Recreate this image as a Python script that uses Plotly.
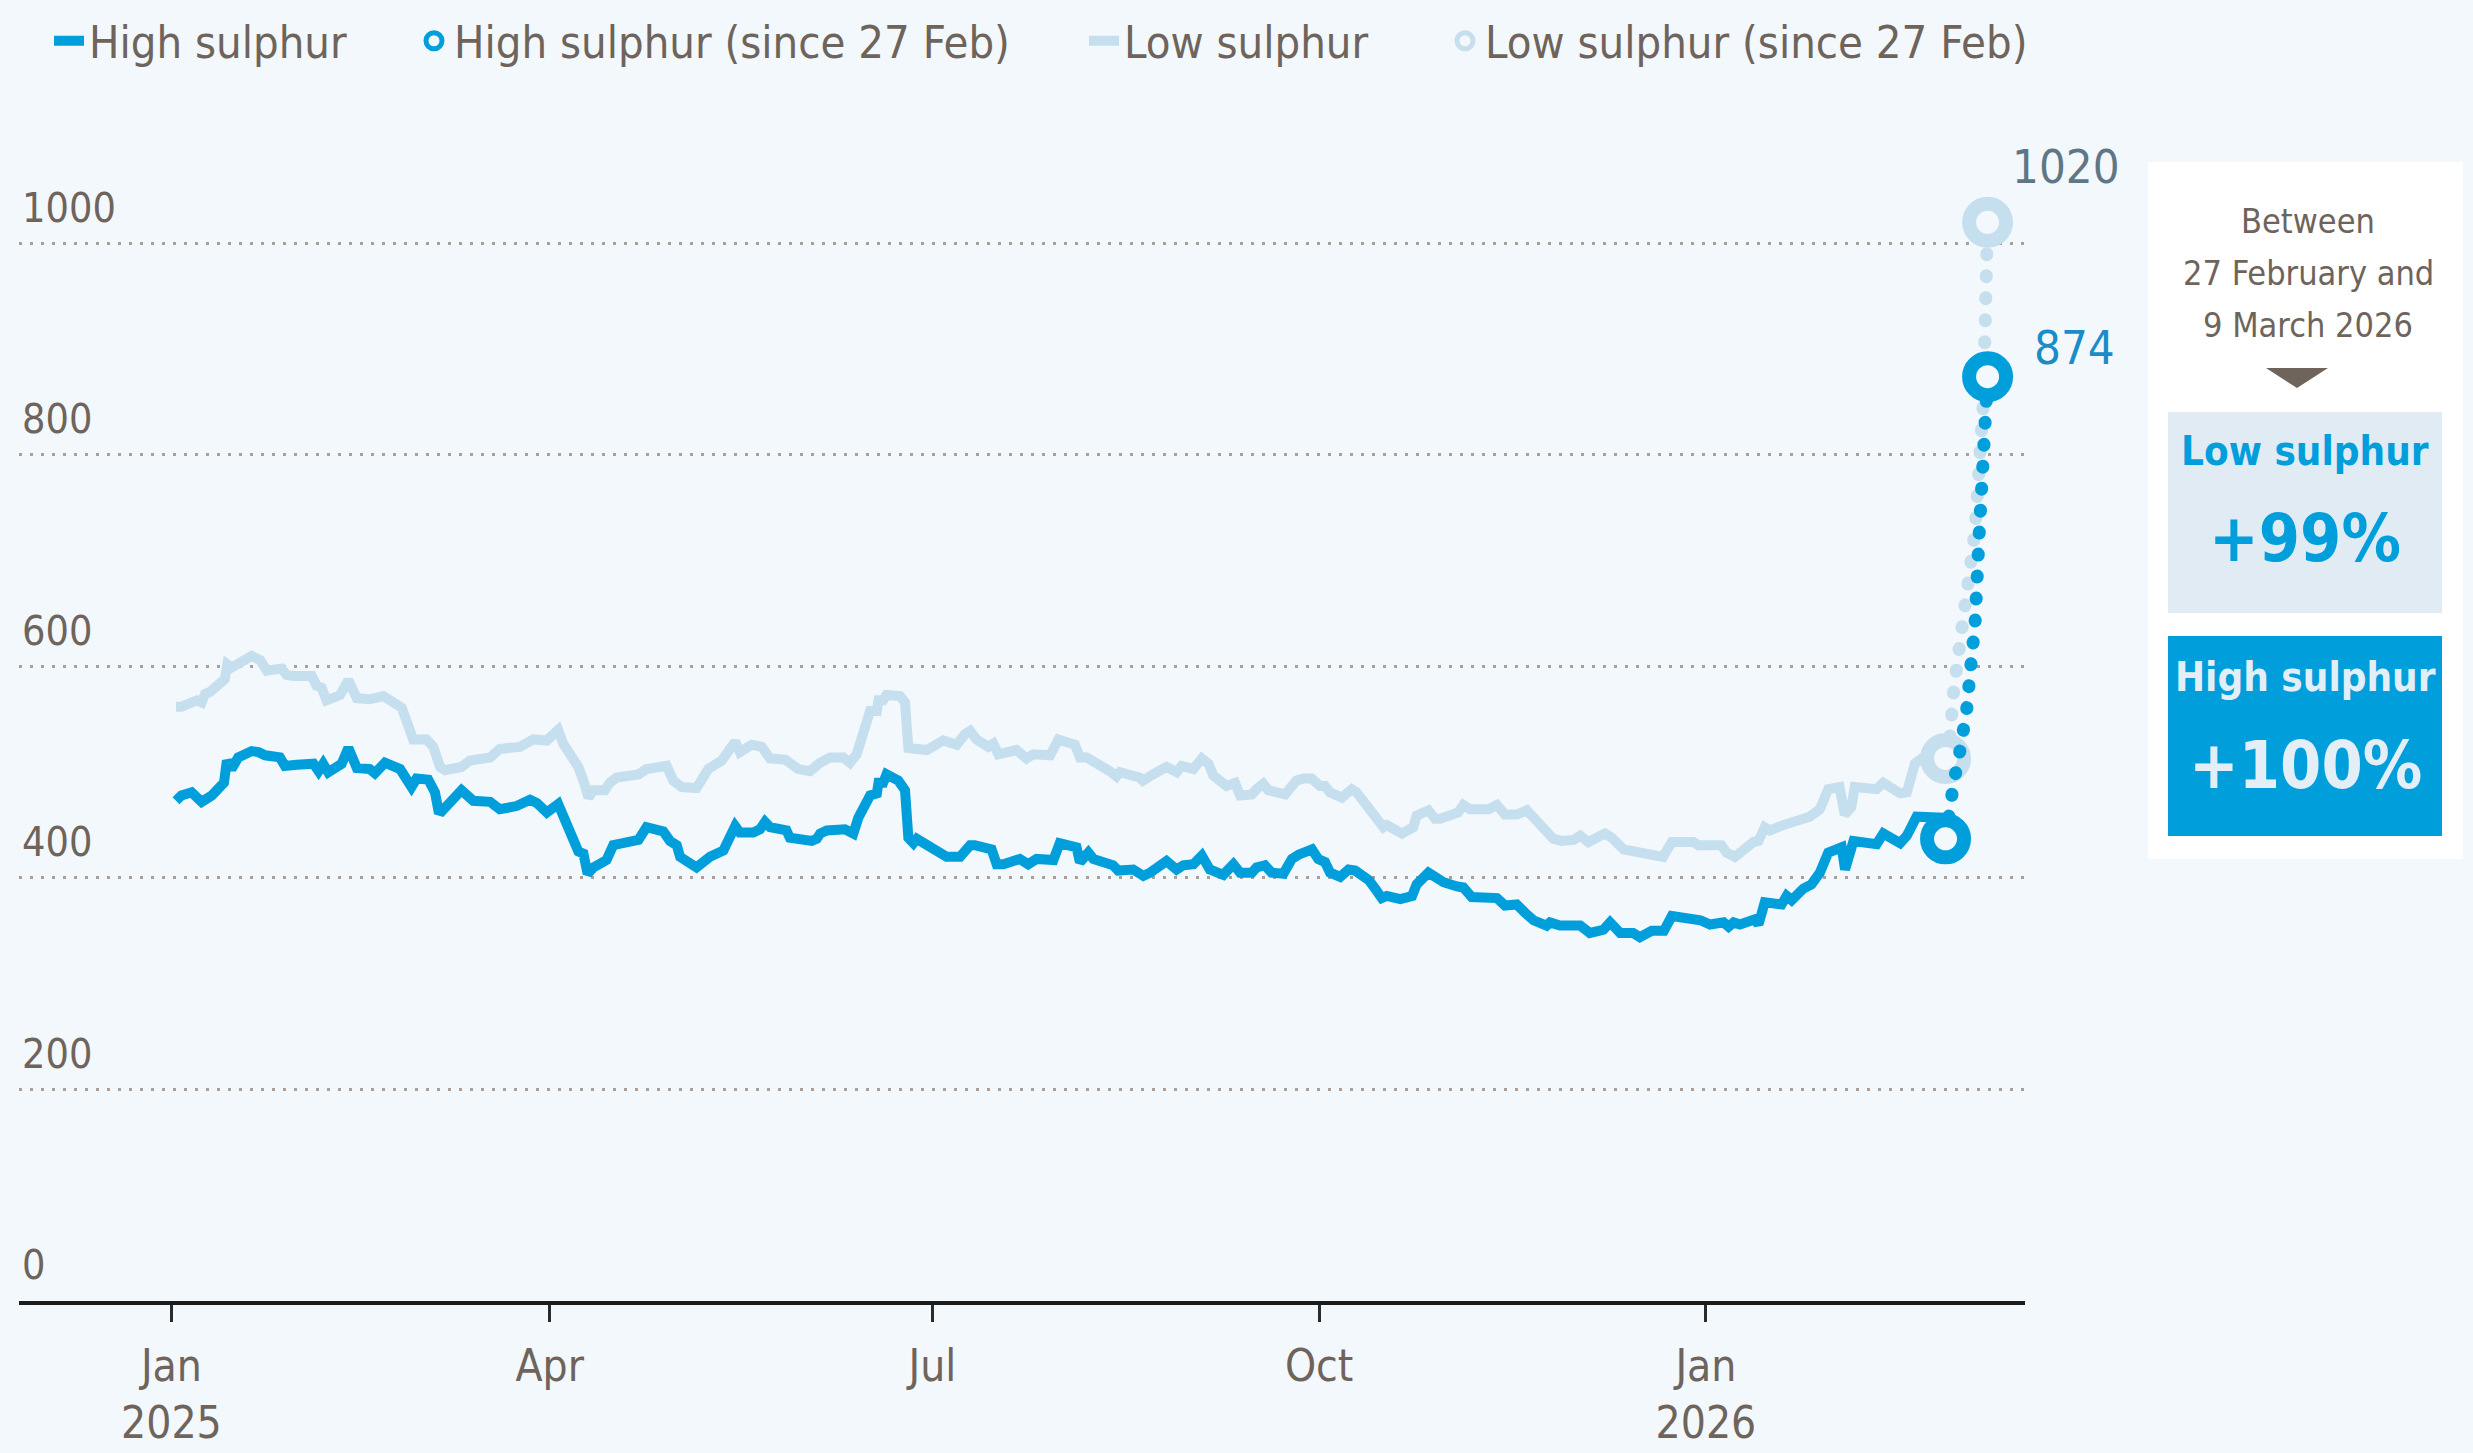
import pandas as pd
import plotly.graph_objects as go

# ---------------- data ----------------
BASE = "2025-01-01"  # day 0 of the offsets below

high_days = [1.1, 2.4, 4.8, 7.2, 9.6, 12.5, 13.2, 14.3, 15.9, 19.1, 20.7, 22.3, 25.8, 27.0, 29.8, 33.8, 35.0,
             36.1, 37.3, 40.5, 42.1, 44.1, 47.2, 48.4, 50.8, 54.4, 57.1, 58.3, 61.1, 62.7, 63.5, 64.3, 69.0,
             71.8, 75.8, 78.1, 82.1, 85.3, 86.9, 89.3, 92.0, 94.8, 96.8, 98.0, 99.0, 100.4, 103.5, 105.1,
             111.1, 113.0, 117.0, 118.6, 120.2, 121.0, 124.9, 128.1, 131.3, 134.1, 135.2, 138.4, 140.0,
             141.2, 142.4, 146.3, 147.1, 152.3, 153.5, 154.3, 155.9, 160.2, 162.2, 163.4, 166.2, 167.8,
             168.2, 169.3, 170.1, 172.9, 174.5, 175.3, 176.5, 177.3, 181.2, 184.4, 187.6, 190.0, 191.1,
             195.1, 196.3, 197.9, 201.8, 203.8, 205.8, 209.8, 211.3, 215.3, 216.1, 218.1, 219.3, 222.4,
             224.0, 225.2, 228.8, 231.2, 232.8, 236.7, 239.1, 240.7, 243.1, 245.1, 247.0, 250.2, 252.6,
             254.2, 257.0, 258.1, 260.1, 261.7, 264.5, 266.5, 268.1, 271.3, 272.8, 274.4, 275.6, 278.0,
             280.0, 281.6, 284.8, 286.3, 287.9, 289.1, 292.3, 295.1, 296.2, 299.0, 301.4, 302.6, 305.8,
             307.3, 309.3, 313.7, 315.3, 317.2, 320.0, 322.0, 324.0, 327.1, 327.9, 330.3, 335.1, 337.4,
             340.6, 342.2, 344.6, 347.7, 349.3, 352.1, 355.0, 356.9, 363.7, 366.0, 369.2, 370.4, 371.6,
             373.1, 376.7, 377.5, 379.0, 383.0, 384.2, 385.4, 388.2, 390.1, 392.1, 394.1, 397.3, 398.1,
             400.1, 405.6, 407.2, 411.2, 412.8, 415.1, 419.1, 420.7]
high_vals = [473, 478, 481, 472, 478, 490, 511, 503, 514, 520, 519, 516, 514, 506, 507, 508, 501,
             508, 500, 508, 523, 504, 503, 499, 509, 503, 486, 494, 493, 481, 464, 463, 483,
             473, 472, 465, 468, 474, 471, 462, 470, 445, 425, 423, 404, 410, 417, 431,
             436, 448, 444, 435, 431, 420, 410, 420, 426, 449, 443, 443, 446,
             453, 448, 445, 438, 435, 437, 442, 445, 446, 442, 457, 478, 480,
             490, 490, 498, 492, 483, 438, 433, 437, 427, 420, 420, 431, 431,
             427, 413, 413, 418, 413, 418, 417, 433, 429, 415, 424, 418, 415,
             412, 407, 408, 402, 405, 416, 408, 412, 413, 421, 408, 403, 413,
             405, 405, 410, 412, 405, 404, 418, 422, 427, 418, 415, 405, 401,
             408, 407, 398, 390, 381, 383, 380, 383, 394, 405, 397, 396, 392,
             391, 382, 382, 381, 374, 375, 367, 360, 355, 358, 355, 355, 348,
             351, 358, 348, 348, 344, 350, 350, 364, 360, 356, 358, 354, 358,
             356, 361, 356, 377, 375, 383, 379, 390, 394, 405, 424, 429, 408,
             435, 432, 442, 433, 440, 458, 456, 457]

low_days = [1.1, 2.4, 6.0, 7.2, 8.0, 9.2, 12.7, 13.3, 14.3, 19.1, 21.1, 22.7, 26.2, 27.4, 29.0, 33.4, 34.5,
            35.7, 36.9, 40.1, 42.1, 44.1, 47.2, 50.4, 54.8, 57.5, 60.7, 62.3, 63.9, 65.1, 69.0, 71.0, 75.8,
            78.1, 82.9, 86.1, 89.3, 92.0, 93.2, 96.8, 98.0, 99.2, 100.4, 103.1, 104.3, 105.9, 111.1, 113.0,
            117.8, 119.4, 121.4, 124.9, 127.7, 130.9, 134.1, 135.2, 138.0, 140.4, 142.4, 146.0, 149.1,
            151.9, 154.3, 156.7, 159.8, 161.4, 163.0, 164.2, 166.2, 167.8, 168.2, 169.3, 170.1, 173.3,
            174.5, 175.3, 179.7, 183.6, 186.8, 188.8, 190.0, 191.5, 194.3, 195.5, 196.7, 197.9, 201.0,
            203.4, 205.0, 209.0, 211.0, 214.9, 216.1, 217.7, 221.6, 223.2, 224.8, 225.6, 230.3, 231.1,
            233.5, 236.7, 239.1, 240.3, 243.1, 245.1, 246.7, 247.8, 251.0, 253.0, 254.2, 257.0, 258.1,
            259.7, 260.9, 263.7, 264.9, 267.6, 269.2, 271.2, 273.2, 274.4, 275.6, 278.4, 280.8, 281.9,
            284.7, 287.1, 288.3, 289.1, 292.7, 295.4, 296.2, 299.0, 300.6, 301.8, 303.8, 306.1, 307.3,
            308.9, 313.3, 315.3, 317.2, 320.0, 322.4, 324.0, 326.7, 328.7, 330.7, 333.5, 335.1, 337.0,
            341.0, 342.6, 345.4, 348.9, 351.7, 354.8, 356.9, 362.0, 363.2, 368.7, 369.9, 371.9, 376.3,
            377.5, 379.0, 380.2, 383.4, 385.8, 387.0, 389.7, 392.1, 394.1, 396.8, 398.0, 399.6, 400.4,
            405.6, 407.2, 411.2, 412.8, 414.7, 416.3, 419.1]
low_vals = [562, 562, 568, 566, 574, 576, 588, 602, 599, 610, 606, 596, 598, 592, 591, 591, 582,
            580, 568, 573, 587, 570, 569, 572, 561, 531, 531, 524, 505, 502, 505, 511, 514,
            522, 524, 531, 530, 540, 527, 505, 492, 476, 483, 483, 490, 495, 498, 503,
            506, 492, 486, 485, 503, 511, 529, 519, 526, 524, 513, 512, 503,
            501, 509, 514, 514, 509, 517, 533, 558, 558, 568, 568, 573, 572,
            566, 523, 521, 530, 526, 536, 539, 531, 524, 527, 517, 518, 521,
            513, 517, 516, 531, 526, 514, 514, 506, 501, 496, 500, 495, 492,
            498, 505, 500, 506, 503, 513, 508, 497, 487, 490, 478, 479, 484,
            489, 483, 481, 479, 492, 494, 494, 487, 487, 481, 476, 484, 481,
            465, 453, 448, 450, 442, 448, 459, 464, 456, 456, 459, 462, 469,
            465, 465, 469, 460, 460, 464, 457, 448, 437, 435, 436, 440, 434,
            442, 438, 427, 425, 424, 420, 434, 434, 431, 431, 424, 420, 434,
            435, 448, 445, 450, 453, 456, 458, 465, 484, 486, 460, 467, 486,
            484, 490, 480, 481, 508, 513, 514]

# 27 February 2026 .. 9 March 2026 (daily)
since_days = [422, 423, 424, 425, 426, 427, 428, 429, 430, 431, 432]
high_since = [437, 470, 492, 510, 530, 558, 600, 640, 725, 785, 874]
low_since = [513, 532, 580, 605, 640, 670, 698, 728, 778, 850, 1020]

tick_dates = ["2025-01-01", "2025-04-01", "2025-07-01", "2025-10-01", "2026-01-01"]
tick_text = ["Jan<br>2025", "Apr", "Jul", "Oct", "Jan<br>2026"]
y_ticks = [0, 200, 400, 600, 800, 1000]

# ---------------- helpers ----------------
base = pd.Timestamp(BASE)


def to_dates(days):
    return [base + pd.Timedelta(days=d) for d in days]


W, H = 2473, 1453
ML, MR, MT, MB = 19, 448, 180, 152
PW, PH = W - ML - MR, H - MT - MB


def px(x):
    return (x - ML) / PW


def py(y):
    return (H - MB - y) / PH


FONT = "DejaVu Sans Condensed, Liberation Sans Narrow, sans-serif"
TXT = "#6e645c"
BG = "#f3f8fc"
HIGH = "#009fdc"
LOW = "#c6dfee"

since_dates = to_dates(since_days)
high_x = to_dates(high_days) + [since_dates[0]]
high_y = high_vals + [high_since[0]]
low_x = to_dates(low_days) + [since_dates[0]]
low_y = low_vals + [low_since[0]]

chg_low = round((low_since[-1] / low_since[0] - 1) * 100)
chg_high = round((high_since[-1] / high_since[0] - 1) * 100)

fig = go.Figure()

# low sulphur
fig.add_trace(go.Scatter(x=low_x, y=low_y, mode="lines", name="Low sulphur",
                         line=dict(color=LOW, width=10), legend="legend3", hoverinfo="skip"))
fig.add_trace(go.Scatter(x=since_dates, y=low_since, mode="lines", showlegend=False,
                         line=dict(color=LOW, width=13, dash="1px,21px"), hoverinfo="skip"))
fig.add_trace(go.Scatter(x=[since_dates[0], since_dates[-1]], y=[low_since[0], low_since[-1]],
                         mode="markers", name="Low sulphur (since 27 Feb)", legend="legend4",
                         marker=dict(symbol="circle", size=37, color=BG, line=dict(color=LOW, width=14)),
                         hoverinfo="skip"))
# high sulphur
fig.add_trace(go.Scatter(x=high_x, y=high_y, mode="lines", name="High sulphur",
                         line=dict(color=HIGH, width=10), legend="legend", hoverinfo="skip"))
fig.add_trace(go.Scatter(x=since_dates, y=high_since, mode="lines", showlegend=False,
                         line=dict(color=HIGH, width=13, dash="1px,21px"), hoverinfo="skip"))
fig.add_trace(go.Scatter(x=[since_dates[0], since_dates[-1]], y=[high_since[0], high_since[-1]],
                         mode="markers", name="High sulphur (since 27 Feb)", legend="legend2",
                         marker=dict(symbol="circle", size=37, color=BG, line=dict(color=HIGH, width=14)),
                         hoverinfo="skip"))

x0 = base + pd.Timedelta(days=-36.25)
x1 = base + pd.Timedelta(days=440.9)

leg_common = dict(orientation="h", xref="container", yref="container", xanchor="left",
                  yanchor="middle", y=1 - 41 / H, bgcolor="rgba(0,0,0,0)",
                  font=dict(family=FONT, size=45, color=TXT), itemwidth=30)
legend_text_starts = [89, 454, 1124, 1485]

shapes = [
    dict(type="rect", xref="paper", yref="paper", x0=px(2148), x1=px(2463), y0=py(859), y1=py(162),
         fillcolor="#ffffff", line=dict(width=0)),
    dict(type="rect", xref="paper", yref="paper", x0=px(2168), x1=px(2442), y0=py(613), y1=py(412),
         fillcolor="#e1ebf3", line=dict(width=0)),
    dict(type="rect", xref="paper", yref="paper", x0=px(2168), x1=px(2442), y0=py(836), y1=py(636),
         fillcolor=HIGH, line=dict(width=0)),
    dict(type="path", xref="paper", yref="paper",
         path=f"M {px(2266)} {py(368)} L {px(2328)} {py(368)} L {px(2297)} {py(388)} Z",
         fillcolor=TXT, line=dict(width=0)),
]


def ann(text, x, y, size, color, weight="normal"):
    return dict(text=text, xref="paper", yref="paper", x=px(x), y=py(y), xanchor="center",
                yanchor="middle", showarrow=False, font=dict(family=FONT, size=size, color=color,
                                                             weight=weight))


annotations = [
    ann("Between", 2308, 221, 34, TXT),
    ann("27 February and", 2308, 273, 34, TXT),
    ann("9 March 2026", 2308, 325, 34, TXT),
    ann("Low sulphur", 2305, 451, 40, HIGH, "bold"),
    ann(f"+{chg_low}%", 2305, 538, 66, HIGH, "bold"),
    ann("High sulphur", 2305, 677, 40, "#e4eef7", "bold"),
    ann(f"+{chg_high}%", 2305, 766, 66, "#e4eef7", "bold"),
    dict(text=f"{low_since[-1]}", x=since_dates[-1], y=low_since[-1], xref="x", yref="y",
         xanchor="left", yanchor="middle", xshift=22, yshift=56, showarrow=False,
         font=dict(family=FONT, size=47, color="#5f7686")),
    dict(text=f"{high_since[-1]}", x=since_dates[-1], y=high_since[-1], xref="x", yref="y",
         xanchor="left", yanchor="middle", xshift=44, yshift=29, showarrow=False,
         font=dict(family=FONT, size=47, color="#1a8cc8")),
]

layout = dict(
    width=W, height=H,
    paper_bgcolor=BG, plot_bgcolor=BG,
    margin=dict(l=ML, r=MR, t=MT, b=MB, autoexpand=False),
    font=dict(family=FONT, color=TXT),
    xaxis=dict(type="date", range=[x0, x1], tickvals=tick_dates, ticktext=tick_text,
               ticks="outside", ticklen=17, tickwidth=2.5, tickcolor="#2b2b2b",
               showline=True, linecolor="#1c1c1c", linewidth=3.5, showgrid=False, zeroline=False,
               ticklabelstandoff=6,
               tickfont=dict(family=FONT, size=44, color=TXT)),
    yaxis=dict(range=[0, 1060], tickvals=y_ticks, ticklabelposition="inside", ticks="",
               showgrid=True, gridcolor="#aaa097", gridwidth=3, griddash="3px,8px",
               zeroline=False, showline=False, ticklabelshift=-36,
               tickfont=dict(family=FONT, size=41, color=TXT)),
    shapes=shapes,
    annotations=annotations,
    hovermode=False,
)
for i, start in enumerate(legend_text_starts):
    key = "legend" if i == 0 else f"legend{i + 1}"
    layout[key] = dict(leg_common, x=(start - 40) / W)

fig.update_layout(**layout)

post = """
document.body.style.margin = '0';
document.body.style.background = '%s';
var gd = document.getElementById('{plot_id}');
function roundDots(){
  gd.querySelectorAll('path.js-line').forEach(function(p){
    var d = p.style.strokeDasharray || '';
    if (d.indexOf('1px') === 0) { p.style.strokeLinecap = 'round'; }
  });
}
roundDots();
gd.on('plotly_afterplot', roundDots);
""" % BG

fig.write_html("out.html", config={"displayModeBar": False}, post_script=post)
